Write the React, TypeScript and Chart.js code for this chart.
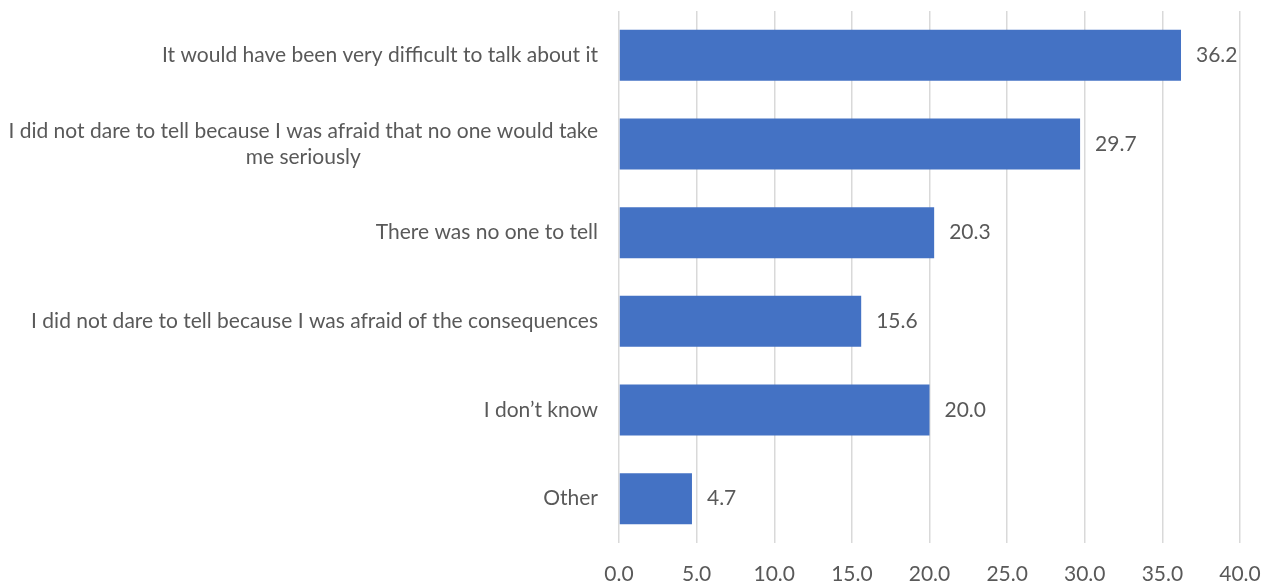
import React, { useEffect, useRef } from "react";
import { Chart, registerables } from "chart.js";

Chart.register(...registerables);

// Reasons, one entry per bar; each entry lists its text lines
const categoryLines: string[][] = [
  ["It would have been very difficult to talk about it"],
  ["I did not dare to tell because I was afraid that no one would take", "me seriously"],
  ["There was no one to tell"],
  ["I did not dare to tell because I was afraid of the consequences"],
  ["I don\u2019t know"],
  ["Other"],
];

// Share of respondents (%)
const values: number[] = [36.2, 29.7, 20.3, 15.6, 20.0, 4.7];

// Horizontal axis range
const axisMin = 0;
const axisMax = 40;
const axisStep = 5;

const FONT_FAMILY = "Lato, 'Open Sans', sans-serif";
const FONT_SIZE = 21;
const TEXT_COLOR = "#595959";
const BAR_COLOR = "#4472C4";
const GRID_COLOR = "#D9D9D9";

// Category labels: block right-aligned to the axis, lines centered inside the block
const categoryLabelPlugin = {
  id: "categoryLabels",
  afterDraw(chart: any) {
    const ctx = chart.ctx as CanvasRenderingContext2D;
    const yScale = chart.scales.y;
    const rightEdge = chart.chartArea.left - 21;
    const lineHeight = 26;
    ctx.save();
    ctx.font = `${FONT_SIZE}px ${FONT_FAMILY}`;
    ctx.fillStyle = TEXT_COLOR;
    ctx.textBaseline = "middle";
    ctx.textAlign = "center";
    categoryLines.forEach((lines, i) => {
      const cy = yScale.getPixelForValue(i);
      const blockWidth = Math.max(...lines.map((l) => ctx.measureText(l).width));
      const cx = rightEdge - blockWidth / 2;
      const startY = cy - ((lines.length - 1) * lineHeight) / 2;
      lines.forEach((line, j) => {
        ctx.fillText(line, cx, startY + j * lineHeight);
      });
    });
    ctx.restore();
  },
};

// Value labels just past the end of each bar
const valueLabelPlugin = {
  id: "valueLabels",
  afterDatasetsDraw(chart: any) {
    const ctx = chart.ctx as CanvasRenderingContext2D;
    const meta = chart.getDatasetMeta(0);
    ctx.save();
    ctx.font = `${FONT_SIZE}px ${FONT_FAMILY}`;
    ctx.fillStyle = TEXT_COLOR;
    ctx.textBaseline = "middle";
    ctx.textAlign = "left";
    meta.data.forEach((bar: any, i: number) => {
      ctx.fillText(values[i].toFixed(1), bar.x + 15, bar.y);
    });
    ctx.restore();
  },
};

export default function App() {
  const canvasRef = useRef<HTMLCanvasElement | null>(null);

  useEffect(() => {
    if (!canvasRef.current) return;
    const chart = new Chart(canvasRef.current, {
      type: "bar",
      data: {
        labels: categoryLines.map((l) => l.join(" ")),
        datasets: [
          {
            data: values,
            backgroundColor: BAR_COLOR,
            borderWidth: 0,
            barPercentage: 0.575,
            categoryPercentage: 1,
          },
        ],
      },
      options: {
        indexAxis: "y",
        animation: false,
        responsive: false,
        maintainAspectRatio: false,
        layout: { padding: { top: 11, right: 32, bottom: 0, left: 0 } },
        plugins: {
          legend: { display: false },
          tooltip: { enabled: false },
        },
        scales: {
          x: {
            min: axisMin,
            max: axisMax,
            border: { display: false },
            grid: {
              color: GRID_COLOR,
              lineWidth: 1.5,
              drawTicks: false,
            },
            ticks: {
              stepSize: axisStep,
              color: TEXT_COLOR,
              font: { family: FONT_FAMILY, size: FONT_SIZE },
              padding: 19,
              maxRotation: 0,
              callback: (v: any) => Number(v).toFixed(1),
            },
            afterFit: (scale: any) => {
              scale.height = 42;
              scale.paddingLeft = 0;
              scale.paddingRight = 0;
            },
          },
          y: {
            border: { display: false },
            grid: { display: false, drawTicks: false },
            ticks: { display: false },
            afterFit: (scale: any) => {
              scale.width = 619;
              scale.paddingTop = 0;
              scale.paddingBottom = 0;
            },
          },
        },
      },
      plugins: [categoryLabelPlugin, valueLabelPlugin],
    });
    return () => chart.destroy();
  }, []);

  return (
    <div style={{ position: "absolute", left: 0, top: 0, width: 1272, height: 585, background: "#fff" }}>
      <canvas ref={canvasRef} width={1272} height={585} />
    </div>
  );
}
